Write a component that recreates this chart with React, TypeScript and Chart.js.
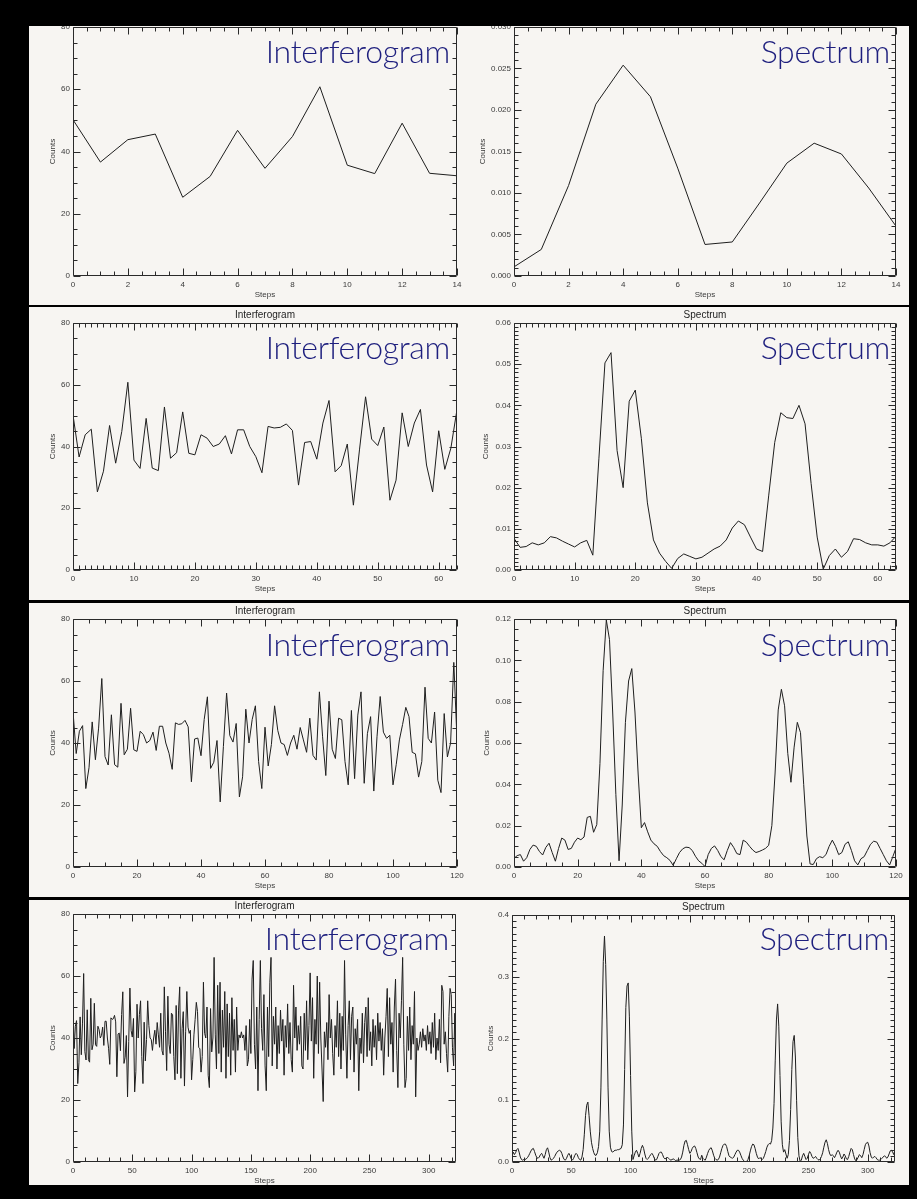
import React, { useEffect, useRef } from "react";
import { Chart, registerables } from "chart.js";

Chart.register(...registerables);

// ---------------- data ----------------
// Interferogram samples (same signal, sampled with growing length)
const interfA: number[] = [50.2, 36.6, 43.8, 45.6, 25.3, 32.0, 46.8, 34.6, 44.8, 60.8, 35.6, 32.9, 49.1, 33.0, 32.2];
const interfB: number[] = [
  52.8, 36.2, 38.0, 51.2, 37.8, 37.3, 43.8, 42.7, 40.0, 40.8, 43.5, 37.6, 45.4, 45.4, 40.0, 36.7, 31.5,
  46.5, 46.0, 46.2, 47.3, 45.2, 27.5, 41.3, 41.6, 35.9, 47.6, 54.9, 31.8, 33.8, 40.8, 21.0, 38.9, 56.1,
  42.4, 40.3, 46.3, 22.6, 29.1, 50.9, 40.0, 47.6, 52.0, 34.0, 25.3, 45.1, 32.6, 39.5, 52.0,
];
const interfC: number[] = [
  44, 40, 39.5, 36, 40, 42.5, 38, 45, 41, 37, 48, 36, 34.5, 56.5, 42, 29.5, 53.5, 38, 35, 48, 47.5, 34,
  26.5, 50.5, 28.5, 49, 56.5, 27, 43, 48.5, 24.5, 42, 55, 43.5, 41.5, 42.5, 26.5, 33, 41, 46, 51.5, 48.5,
  37, 36.5, 29, 34, 58, 41.5, 40, 50, 28, 24, 49.5, 35.5, 40, 66, 41,
];
const interfD: number[] = [
  30, 57, 35, 58, 29, 49, 37, 55, 27, 51,
  34, 48, 28, 53, 36, 46, 29, 50, 36, 41,
  40, 42, 40, 41, 36, 44, 31, 33, 46, 35,
  59, 65, 38, 30, 50, 23, 46, 65, 43, 36,
  54, 31, 23, 50, 34, 58, 66, 31, 47, 38,
  50, 30, 44, 35, 49, 39, 46, 28, 44, 37,
  51, 35, 45, 33, 29, 57, 40, 50, 36, 44,
  38, 47, 31, 30, 48, 36, 52, 33, 44, 61,
  39, 53, 27, 46, 38, 60, 35, 58, 40, 30,
  19.5, 42, 37, 45, 33, 54, 40, 46, 35, 28,
  44, 37, 52, 34, 48, 30, 47, 36, 65, 41,
  27, 44, 52, 33, 47, 50, 29, 43, 38, 46,
  23, 40, 35, 48, 32, 45, 50, 34, 53, 36,
  42, 31, 46, 37, 44, 33, 48, 39, 45, 36,
  43, 28, 40, 47, 56, 34, 53, 38, 45, 29,
  50, 59, 36, 24, 48, 40, 52, 66, 38, 24,
  27, 47, 36, 50, 33, 44, 38, 55, 21, 40,
  36, 38, 42, 37, 43, 39, 41, 36, 44, 38,
  42, 35, 45, 37, 48, 33, 40, 36, 46, 32,
  57, 55, 38, 42, 35, 29, 47, 56, 54, 37,
  31, 48, 25,
];

const spectrum15: number[] = [0.0011, 0.0032, 0.0109, 0.0207, 0.0254, 0.0216, 0.013, 0.0038, 0.0041, 0.0088, 0.0136, 0.016, 0.0147, 0.0106, 0.006];
const spectrum64: number[] = [
  0.0077, 0.0055, 0.0057, 0.0066, 0.0061, 0.0066, 0.0081, 0.0078, 0.007, 0.0063,
  0.0056, 0.0066, 0.0072, 0.0036, 0.027, 0.0503, 0.0528, 0.029, 0.02, 0.041,
  0.0437, 0.032, 0.0163, 0.0073, 0.0041, 0.0021, 0.0004, 0.0028, 0.0039, 0.0033,
  0.0027, 0.0031, 0.0041, 0.0051, 0.0058, 0.0073, 0.0102, 0.0119, 0.011, 0.008,
  0.0051, 0.0045, 0.018, 0.031, 0.0382, 0.037, 0.0368, 0.04, 0.0355, 0.021,
  0.008, 0.0002, 0.0035, 0.0051, 0.0031, 0.0045, 0.0076, 0.0074, 0.0066, 0.0061,
  0.0061, 0.0058, 0.0066, 0.0082,
];
const spectrum121: number[] = [
  0.0042, 0.0055, 0.006, 0.0028, 0.0045, 0.0085, 0.0106, 0.01, 0.0075, 0.0058,
  0.0095, 0.0115, 0.007, 0.0028, 0.009, 0.014, 0.013, 0.0085, 0.009, 0.012,
  0.014, 0.0132, 0.0145, 0.024, 0.0245, 0.0168, 0.0205, 0.05, 0.095, 0.1195,
  0.11, 0.075, 0.035, 0.003, 0.03, 0.07, 0.09, 0.096, 0.075, 0.045,
  0.019, 0.0215, 0.017, 0.013, 0.0112, 0.01, 0.0075, 0.0055, 0.0045, 0.0032,
  0.0008, 0.004, 0.007, 0.0088, 0.0096, 0.0094, 0.008, 0.0052, 0.003, 0.0018,
  0.0002, 0.006, 0.009, 0.0102, 0.008, 0.005, 0.0035, 0.008, 0.0118, 0.0095,
  0.0065, 0.006, 0.013, 0.012, 0.01, 0.0082, 0.007, 0.0075, 0.0082, 0.009,
  0.0105, 0.02, 0.045, 0.076, 0.086, 0.078, 0.055, 0.041, 0.058, 0.07,
  0.065, 0.04, 0.015, 0.0015, 0.0012, 0.004, 0.005, 0.0045, 0.006, 0.01,
  0.013, 0.01, 0.006, 0.007, 0.011, 0.0122, 0.008, 0.003, 0.001, 0.004,
  0.005, 0.008, 0.011, 0.0125, 0.012, 0.009, 0.006, 0.003, 0.001, 0.005,
  0.0092,
];
const spectrum324: number[] = [
  0.010, 0.016, 0.012, 0.015, 0.020, 0.022, 0.016, 0.008, 0.004, 0.003,
  0.004, 0.004, 0.005, 0.007, 0.010, 0.014, 0.018, 0.021, 0.022, 0.017,
  0.011, 0.007, 0.006, 0.008, 0.012, 0.014, 0.010, 0.006, 0.012, 0.020,
  0.023, 0.016, 0.007, 0.003, 0.004, 0.006, 0.009, 0.013, 0.016, 0.018,
  0.019, 0.018, 0.014, 0.008, 0.004, 0.003, 0.006, 0.011, 0.014, 0.010,
  0.005, 0.003, 0.006, 0.011, 0.014, 0.012, 0.007, 0.004, 0.003, 0.008,
  0.020, 0.045, 0.075, 0.092, 0.097, 0.075, 0.050, 0.032, 0.022, 0.015,
  0.011, 0.011, 0.015, 0.025, 0.050, 0.120, 0.230, 0.325, 0.366, 0.320,
  0.230, 0.120, 0.050, 0.024, 0.017, 0.016, 0.018, 0.019, 0.019, 0.020,
  0.020, 0.021, 0.022, 0.028, 0.060, 0.150, 0.250, 0.285, 0.290, 0.235,
  0.140, 0.050, 0.004, 0.010, 0.016, 0.019, 0.014, 0.008, 0.014, 0.022,
  0.027, 0.022, 0.013, 0.006, 0.004, 0.006, 0.009, 0.012, 0.014, 0.011,
  0.006, 0.003, 0.004, 0.009, 0.014, 0.016, 0.016, 0.012, 0.007, 0.005,
  0.006, 0.008, 0.006, 0.004, 0.003, 0.004, 0.005, 0.004, 0.002, 0.003,
  0.003, 0.003, 0.004, 0.008, 0.016, 0.027, 0.034, 0.035, 0.028, 0.020,
  0.014, 0.017, 0.022, 0.025, 0.026, 0.022, 0.015, 0.008, 0.005, 0.004,
  0.011, 0.006, 0.004, 0.003, 0.008, 0.014, 0.019, 0.022, 0.023, 0.018,
  0.011, 0.006, 0.004, 0.003, 0.004, 0.008, 0.015, 0.022, 0.027, 0.029,
  0.029, 0.025, 0.017, 0.010, 0.008, 0.007, 0.006, 0.008, 0.012, 0.016,
  0.019, 0.019, 0.016, 0.011, 0.006, 0.003, 0.001, 0.000, 0.001, 0.004,
  0.010, 0.018, 0.025, 0.029, 0.028, 0.022, 0.014, 0.008, 0.005, 0.007,
  0.006, 0.004, 0.006, 0.011, 0.017, 0.024, 0.028, 0.030, 0.029, 0.035,
  0.055, 0.095, 0.165, 0.230, 0.256, 0.220, 0.140, 0.065, 0.028, 0.016,
  0.020, 0.013, 0.006, 0.012, 0.035, 0.085, 0.150, 0.195, 0.205, 0.170,
  0.100, 0.040, 0.010, 0.001, 0.003, 0.010, 0.014, 0.009, 0.004, 0.006,
  0.012, 0.017, 0.014, 0.009, 0.006, 0.007, 0.009, 0.006, 0.004, 0.003,
  0.005, 0.009, 0.015, 0.024, 0.032, 0.036, 0.030, 0.020, 0.013, 0.010,
  0.012, 0.010, 0.007, 0.011, 0.016, 0.019, 0.016, 0.010, 0.005, 0.008,
  0.013, 0.010, 0.005, 0.004, 0.009, 0.016, 0.022, 0.020, 0.012, 0.005,
  0.002, 0.004, 0.008, 0.012, 0.010, 0.007, 0.012, 0.020, 0.028, 0.031,
  0.032, 0.026, 0.015, 0.008, 0.006, 0.008, 0.009, 0.007, 0.004, 0.003,
  0.003, 0.004, 0.006, 0.008, 0.010, 0.009, 0.006, 0.008, 0.013, 0.018,
  0.019, 0.016, 0.012, 0.020,
];

const interferogram: number[] = [...interfA, ...interfB, ...interfC, ...interfD];

// axis settings: [xMax, xStep, xMinorDiv]
const xAxes: number[][] = [
  [14, 2, 4],
  [63, 10, 10],
  [120, 20, 4],
  [323, 50, 5],
];
// interferogram y axis: [yMax, yStep, yMinorDiv, decimals]
const interfYAxis: number[] = [80, 20, 4, 0];
// spectrum y axes: [yMax, yStep, yMinorDiv, decimals]
const specYAxes: number[][] = [
  [0.03, 0.005, 5, 3],
  [0.06, 0.01, 10, 2],
  [0.12, 0.02, 4, 2],
  [0.4, 0.1, 10, 1],
];
const interfLengths: number[] = [15, 64, 121, 324];
const spectra: number[][] = [spectrum15, spectrum64, spectrum121, spectrum324];
const smallTitles: (string | null)[][] = [
  [null, null],
  ["Interferogram", "Spectrum"],
  ["Interferogram", "Spectrum"],
  ["Interferogram", "Spectrum"],
];
const bigLabels: string[] = ["Interferogram", "Spectrum"];

// ---------------- styling / layout ----------------
const PANEL_BG = "#f7f5f2";
const INK = "#1e1e1e";
const LABEL = "#3a3a3a";
const BLUE = "#1e1f7e";
const SANS = "'Liberation Sans', Arial, Helvetica, sans-serif";

const PANEL_LEFT = 29;
const PANEL_WIDTH = 880;
const rowsGeom = [
  { top: 26, height: 279 },
  { top: 307, height: 293 },
  { top: 603, height: 294 },
  { top: 900, height: 285 },
];
// plot boxes (absolute page coords): [left, top, width, height, yAxisWidth]
const plotGeom: number[][][] = [
  [[73, 27, 384, 249, 25], [514, 27, 382, 249, 36]],
  [[73, 323, 384, 247, 25], [514, 323, 382, 247, 33]],
  [[73, 619, 384, 248, 25], [514, 619, 382, 248, 32]],
  [[73, 914, 383, 248, 25], [512, 915, 383, 247, 26]],
];
const bigGeom: number[][][] = [
  // [rightEdge, baseline]
  [[450, 63], [890, 63]],
  [[450, 359], [890, 359]],
  [[450, 656], [890, 656]],
  [[449, 950], [889, 950]],
];

const X_H = 24;
const PAD_R = 12;
const TITLE_BLOCK = 16; // title padding 2 + line 12 + 2

const isMultiple = (v: number, step: number) => Math.abs(v / step - Math.round(v / step)) < 1e-6;

const framePlugin = {
  id: "idlFrame",
  afterDraw(chart: any, _args: any, opts: any) {
    const { ctx, chartArea: a } = chart;
    const xs = chart.scales.x;
    const ys = chart.scales.y;
    const L = Math.round(a.left) + 0.5;
    const R = Math.round(a.right) - 0.5;
    const T = Math.round(a.top) + 0.5;
    const B = Math.round(a.bottom) - 0.5;
    ctx.save();
    ctx.strokeStyle = "#2a2a2a";
    ctx.lineWidth = 1;
    ctx.beginPath();
    ctx.rect(L, T, R - L, B - T);
    const MAJ = 7;
    const MIN = 4;
    const xMinorStep = opts.xStep / opts.xMinor;
    const nx = Math.floor(opts.xMax / xMinorStep + 1e-6);
    for (let k = 0; k <= nx; k++) {
      const v = k * xMinorStep;
      const len = isMultiple(v, opts.xStep) ? MAJ : MIN;
      const px = Math.round(xs.getPixelForValue(v)) + 0.5;
      ctx.moveTo(px, B);
      ctx.lineTo(px, B - len);
      ctx.moveTo(px, T);
      ctx.lineTo(px, T + len);
    }
    const yMinorStep = opts.yStep / opts.yMinor;
    const ny = Math.floor(opts.yMax / yMinorStep + 1e-6);
    for (let k = 0; k <= ny; k++) {
      const v = k * yMinorStep;
      const len = isMultiple(v, opts.yStep) ? MAJ : MIN;
      const py = Math.round(ys.getPixelForValue(v)) + 0.5;
      ctx.moveTo(L, py);
      ctx.lineTo(L + len, py);
      ctx.moveTo(R, py);
      ctx.lineTo(R - len, py);
    }
    ctx.stroke();
    ctx.restore();
  },
};

type Spec = {
  values: number[];
  xMax: number;
  xStep: number;
  xMinor: number;
  yMax: number;
  yStep: number;
  yMinor: number;
  yDec: number;
  title: string | null;
  plot: number[];
  rowTop: number;
};

function Plot({ spec }: { spec: Spec }) {
  const ref = useRef<HTMLCanvasElement>(null);
  const [pl, pt, pw, ph, yW] = spec.plot;
  const padTop = spec.title ? 0 : 8;
  const topBlock = spec.title ? TITLE_BLOCK : padTop;
  const w = yW + pw + PAD_R;
  const h = topBlock + ph + X_H;
  const left = pl - yW - PANEL_LEFT;
  const top = pt - topBlock - spec.rowTop;

  useEffect(() => {
    const c = ref.current!;
    const pts = spec.values.map((v, i) => ({ x: i, y: v }));
    const tickFont = { family: SANS, size: 8, lineHeight: 1.2 };
    const chart = new Chart(c, {
      type: "line",
      data: {
        datasets: [
          {
            data: pts,
            borderColor: INK,
            borderWidth: 1,
            pointRadius: 0,
            tension: 0,
            fill: false,
          },
        ],
      },
      options: {
        animation: false,
        responsive: false,
        maintainAspectRatio: false,
        events: [],
        layout: { padding: { left: 0, right: PAD_R, top: padTop, bottom: 0 } },
        plugins: {
          legend: { display: false },
          tooltip: { enabled: false },
          title: spec.title
            ? {
                display: true,
                text: spec.title,
                fullSize: false,
                color: INK,
                font: { family: SANS, size: 10, weight: "normal", lineHeight: 1.2 },
                padding: { top: 2, bottom: 2 },
              }
            : { display: false },
          idlFrame: {
            xMax: spec.xMax,
            xStep: spec.xStep,
            xMinor: spec.xMinor,
            yMax: spec.yMax,
            yStep: spec.yStep,
            yMinor: spec.yMinor,
          },
        } as any,
        scales: {
          x: {
            type: "linear",
            min: 0,
            max: spec.xMax,
            bounds: "data",
            grid: { display: false, drawTicks: false },
            border: { display: false },
            ticks: {
              stepSize: spec.xStep,
              includeBounds: false,
              autoSkip: false,
              maxRotation: 0,
              minRotation: 0,
              padding: 4,
              color: LABEL,
              font: tickFont,
              callback: (v: any) => String(Math.round(Number(v))),
            },
            title: { display: true, text: "Steps", padding: 0, color: LABEL, font: tickFont },
            afterBuildTicks: (s: any) => {
              s.ticks = s.ticks.filter((t: any) => isMultiple(t.value, spec.xStep));
            },
            afterFit: (s: any) => {
              s.height = X_H;
            },
          },
          y: {
            type: "linear",
            min: 0,
            max: spec.yMax,
            bounds: "data",
            grid: { display: false, drawTicks: false },
            border: { display: false },
            ticks: {
              stepSize: spec.yStep,
              includeBounds: false,
              autoSkip: false,
              padding: 3,
              color: LABEL,
              font: tickFont,
              callback: (v: any) => Number(v).toFixed(spec.yDec),
            },
            title: { display: true, text: "Counts", padding: 0, color: LABEL, font: tickFont },
            afterBuildTicks: (s: any) => {
              s.ticks = s.ticks.filter((t: any) => isMultiple(t.value, spec.yStep));
            },
            afterFit: (s: any) => {
              s.width = yW;
            },
          },
        },
      } as any,
      plugins: [framePlugin],
    });
    return () => chart.destroy();
  }, []);

  return (
    <canvas
      ref={ref}
      width={w}
      height={h}
      style={{ position: "absolute", left, top, width: w, height: h }}
    />
  );
}

function BigLabel({ text, right, baseline, rowTop }: { text: string; right: number; baseline: number; rowTop: number }) {
  const BOX = 300;
  return (
    <div
      style={{
        position: "absolute",
        left: right - BOX - PANEL_LEFT,
        top: baseline - 28.4 - rowTop,
        width: BOX,
        height: 32,
        textAlign: "right",
        fontFamily: "Lato, 'Open Sans', sans-serif",
        fontWeight: 300,
        fontSize: 32,
        lineHeight: "32px",
        letterSpacing: "-0.3px",
        color: BLUE,
        whiteSpace: "nowrap",
        pointerEvents: "none",
      }}
    >
      {text}
    </div>
  );
}

export default function App() {
  return (
    <div
      style={{
        position: "absolute",
        left: 0,
        top: 0,
        width: 917,
        height: 1199,
        background: "#000",
        overflow: "hidden",
      }}
    >
      {rowsGeom.map((row, r) => {
        const [xMax, xStep, xMinor] = xAxes[r];
        const [syMax, syStep, syMinor, syDec] = specYAxes[r];
        const [iyMax, iyStep, iyMinor, iyDec] = interfYAxis;
        const specs: Spec[] = [
          {
            values: interferogram.slice(0, interfLengths[r]),
            xMax, xStep, xMinor,
            yMax: iyMax, yStep: iyStep, yMinor: iyMinor, yDec: iyDec,
            title: smallTitles[r][0],
            plot: plotGeom[r][0],
            rowTop: row.top,
          },
          {
            values: spectra[r],
            xMax, xStep, xMinor,
            yMax: syMax, yStep: syStep, yMinor: syMinor, yDec: syDec,
            title: smallTitles[r][1],
            plot: plotGeom[r][1],
            rowTop: row.top,
          },
        ];
        return (
          <div
            key={r}
            style={{
              position: "absolute",
              left: PANEL_LEFT,
              top: row.top,
              width: PANEL_WIDTH,
              height: row.height,
              background: PANEL_BG,
              overflow: "hidden",
            }}
          >
            {specs.map((s, i) => (
              <Plot key={i} spec={s} />
            ))}
            {bigLabels.map((t, i) => (
              <BigLabel key={t} text={t} right={bigGeom[r][i][0]} baseline={bigGeom[r][i][1]} rowTop={row.top} />
            ))}
          </div>
        );
      })}
    </div>
  );
}
